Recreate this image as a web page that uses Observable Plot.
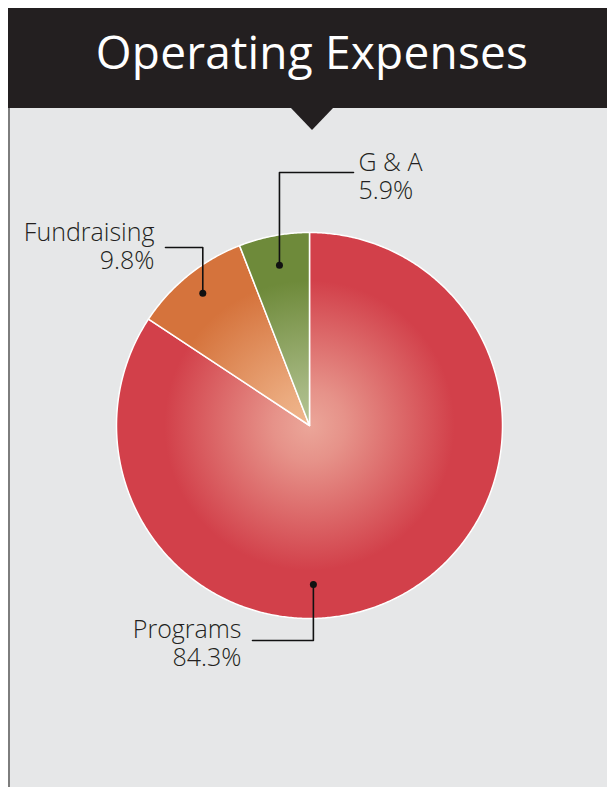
<!DOCTYPE html>
<html><head><meta charset="utf-8">
<script src="https://cdn.jsdelivr.net/npm/d3@7"></script>
<script src="https://cdn.jsdelivr.net/npm/@observablehq/plot@0.6"></script>
<style>
html,body{margin:0;padding:0;background:#fff;}
#wrap{position:relative;width:607px;height:787px;overflow:hidden;background:#fff;}
#header{position:absolute;left:8px;top:8px;width:599px;height:100px;background:#231f20;}
#title{position:absolute;left:17px;top:1px;width:590px;height:100px;line-height:100px;text-align:center;color:#fff;font-family:"Open Sans",sans-serif;font-size:46px;font-weight:400;margin:0;white-space:nowrap;letter-spacing:0.2px;}
#panel{position:absolute;left:8px;top:108px;width:597px;height:679px;background:#e6e7e8;border-left:2px solid #7d7d7d;}
#tri{position:absolute;left:290px;top:107px;width:0;height:0;border-left:22.5px solid transparent;border-right:22.5px solid transparent;border-top:23px solid #231f20;}
#chart{position:absolute;left:0;top:108px;}
</style>
</head><body>
<div id="wrap">
  <div id="header"></div>
  <h1 id="title">Operating Expenses</h1>
  <div id="panel"></div>
  <div id="tri"></div>
  <div id="chart"></div>
</div>
<script>
// ---- data ----
const categories = ["Programs", "Fundraising", "G & A"];
const values = [84.3, 9.8, 5.9];
const valueLabels = ["84.3%", "9.8%", "5.9%"];

// ---- styles ----
const outerColors = ["#d2404a", "#d5733c", "#6e8a3a"];
const innerColors = ["#eba699", "#f0b88f", "#b4c494"];

// ---- layout (scale units: 1 unit = 1 px, origin at pie centre, y up) ----
const R = 193;
const labelLayout = [
  {angle: 178.6, radius: 159, elbowY: -215, endX: -57, textX: -68, textY: -240, anchor: "end"},
  {angle: null, radius: 170, elbowY: 178, endX: -144, textX: -155, textY: 157, anchor: "end"},
  {angle: null, radius: 163, elbowY: 253, endX: 44, textX: 49, textY: 227, anchor: "start"}
];

const arcs = d3.pie().sort(null).value(d => d)(values);
const slices = categories.map((c, i) => ({
  category: c, value: values[i], label: valueLabels[i],
  start: arcs[i].startAngle, end: arcs[i].endAngle
}));

function slicePoints(s) {
  const pts = [[0, 0]];
  const n = Math.max(2, Math.ceil((s.end - s.start) / (Math.PI / 360)));
  for (let k = 0; k <= n; k++) {
    const a = s.start + (s.end - s.start) * k / n;
    pts.push([R * Math.sin(a), R * Math.cos(a)]);
  }
  pts.push([0, 0]);
  return pts;
}

const annotations = slices.map((s, i) => {
  const L = labelLayout[i];
  const a = L.angle == null ? (s.start + s.end) / 2 : L.angle * Math.PI / 180;
  const dot = [L.radius * Math.sin(a), L.radius * Math.cos(a)];
  return {
    ...s, dot,
    leader: [dot, [dot[0], L.elbowY], [L.endX, L.elbowY]],
    textX: L.textX, textY: L.textY, anchor: L.anchor
  };
});

const W = 607, H = 679, CX = 309, CY = 317;

const chart = Plot.plot({
  width: W, height: H,
  margin: 0,
  x: {domain: [-CX, W - CX], axis: null},
  y: {domain: [-(H - CY), CY], axis: null},
  style: {background: "transparent", overflow: "visible"},
  marks: [
    ...slices.map((s, i) => Plot.line(slicePoints(s), {
      x: d => d[0], y: d => d[1],
      fill: `url(#grad-${i})`, stroke: "white", strokeWidth: 1.5, strokeLinejoin: "round"
    })),
    ...annotations.map(a => Plot.line(a.leader, {
      x: d => d[0], y: d => d[1], stroke: "#111", strokeWidth: 1.6
    })),
    Plot.dot(annotations, {x: d => d.dot[0], y: d => d.dot[1], r: 3.5, fill: "#111", stroke: "none"}),
    ...annotations.map(a => Plot.text([a], {
      x: "textX", y: "textY", text: d => d.category + "\n" + d.label,
      textAnchor: a.anchor, lineAnchor: "bottom", lineHeight: 1.12,
      fontSize: 25, fontFamily: "Open Sans", fontWeight: 300, fill: "#231f20"
    }))
  ]
});

const xs = chart.scale("x"), ys = chart.scale("y");
const cx = xs.apply(0), cy = ys.apply(0), gr = xs.apply(145) - xs.apply(0);
const defs = d3.select(chart).insert("defs", ":first-child");
slices.forEach((s, i) => {
  const g = defs.append("radialGradient").attr("id", `grad-${i}`)
    .attr("gradientUnits", "userSpaceOnUse")
    .attr("cx", cx).attr("cy", cy).attr("r", gr);
  g.append("stop").attr("offset", 0).attr("stop-color", innerColors[i]);
  g.append("stop").attr("offset", 0.25).attr("stop-color", d3.interpolateRgb(innerColors[i], outerColors[i])(0.2));
  g.append("stop").attr("offset", 1).attr("stop-color", outerColors[i]);
});
document.getElementById("chart").appendChild(chart);
</script>
</body></html>
